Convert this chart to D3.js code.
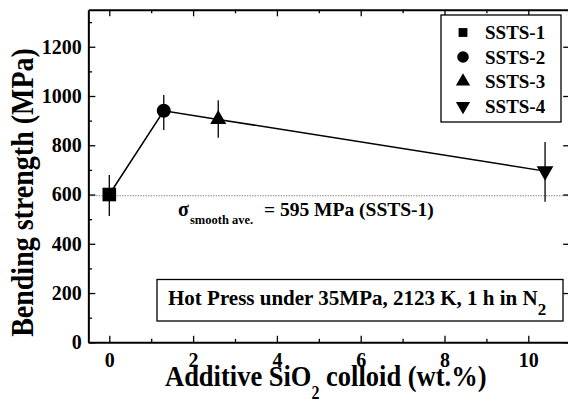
<!DOCTYPE html>
<html>
<head>
<meta charset="utf-8">
<script src="https://cdn.jsdelivr.net/npm/d3@7"></script>
<style>
  html, body { margin: 0; padding: 0; background: #fff; }
  svg { display: block; }
</style>
</head>
<body>
<script>
// ---------------- data ----------------
const categories = ["SSTS-1", "SSTS-2", "SSTS-3", "SSTS-4"];
const siO2 = [0, 1.3, 2.6, 10.4];            // wt.%
const strength = [600, 940, 905, 695];       // MPa
const errLow = [513, 862, 830, 571];
const errHigh = [679, 1004, 983, 813];
const smoothAve = 595;
const xTicks = [0, 2, 4, 6, 8, 10];
const xMinorTicks = [1, 3, 5, 7, 9, 11];
const yTicks = [0, 200, 400, 600, 800, 1000, 1200];
const yMinorTicks = [100, 300, 500, 700, 900, 1100, 1300];

// ---------------- layout ----------------
const W = 568, H = 404;
const FONT = "'Liberation Serif', monospace";
const svg = d3.select("body").append("svg").attr("width", W).attr("height", H);

const x = d3.scaleLinear().domain([-0.5, 11]).range([88.35, 570.2]);
const y = d3.scaleLinear().domain([0, 1350]).range([342.3, 9.8]);

const symbolTypes = [d3.symbolSquare, d3.symbolCircle, d3.symbolTriangle, d3.symbolTriangle];
const symbolSizes = [185, 154, 112, 120];
const legendSizes = [78, 105, 88, 88];
const symbolRot = [0, 0, 0, 180];

function txt(sel, size) {
  return sel.attr("font-family", FONT).attr("font-weight", "bold").attr("font-size", size).attr("fill", "#000");
}

// dotted reference line
svg.append("line")
  .attr("x1", x(-0.5)).attr("x2", x(11))
  .attr("y1", y(smoothAve)).attr("y2", y(smoothAve))
  .attr("stroke", "#777").attr("stroke-width", 1.2)
  .attr("stroke-dasharray", "1.3,1.3");

// axes
function styleAxis(g) {
  g.attr("font-family", FONT).attr("font-size", 20);
  g.selectAll(".domain").attr("stroke", "#000").attr("stroke-width", 2);
  g.selectAll(".tick line").attr("stroke", "#000").attr("stroke-width", 1.3);
  txt(g.selectAll(".tick text"), 20);
}

const gx = svg.append("g").attr("transform", `translate(0,${y(0)})`)
  .call(d3.axisBottom(x).tickValues(xTicks).tickSizeInner(-6.5).tickSizeOuter(0).tickPadding(10.5).tickFormat(d3.format("d")));
styleAxis(gx);
const gxm = svg.append("g").attr("transform", `translate(0,${y(0)})`)
  .call(d3.axisBottom(x).tickValues(xMinorTicks).tickSizeInner(-3.5).tickSizeOuter(0).tickFormat(""));
styleAxis(gxm);
gxm.select(".domain").remove();

const gxt = svg.append("g").attr("transform", `translate(0,${y(1350)})`)
  .call(d3.axisTop(x).tickValues(xTicks).tickSizeInner(-6.5).tickSizeOuter(0).tickFormat(""));
styleAxis(gxt);
const gxtm = svg.append("g").attr("transform", `translate(0,${y(1350)})`)
  .call(d3.axisTop(x).tickValues(xMinorTicks).tickSizeInner(-3.5).tickSizeOuter(0).tickFormat(""));
styleAxis(gxtm);
gxtm.select(".domain").remove();

const gy = svg.append("g").attr("transform", `translate(${x(-0.5)},0)`)
  .call(d3.axisLeft(y).tickValues(yTicks).tickSizeInner(-7).tickSizeOuter(0).tickPadding(6.5).tickFormat(d3.format("d")));
styleAxis(gy);
const gym = svg.append("g").attr("transform", `translate(${x(-0.5)},0)`)
  .call(d3.axisLeft(y).tickValues(yMinorTicks).tickSizeInner(-3.7).tickSizeOuter(0).tickFormat(""));
styleAxis(gym);
gym.select(".domain").remove();

const gyr = svg.append("g").attr("transform", `translate(${x(11)},0)`)
  .call(d3.axisRight(y).tickValues(yTicks).tickSizeInner(-7).tickSizeOuter(0).tickFormat(""));
styleAxis(gyr);

// connecting line
const pts = siO2.map((v, i) => [v, strength[i]]);
svg.append("path")
  .attr("d", d3.line().x(d => x(d[0])).y(d => y(d[1]))(pts))
  .attr("fill", "none").attr("stroke", "#000").attr("stroke-width", 1.5);

// error bars
svg.append("g").selectAll("line").data(siO2).join("line")
  .attr("x1", d => x(d)).attr("x2", d => x(d))
  .attr("y1", (d, i) => y(errLow[i])).attr("y2", (d, i) => y(errHigh[i]))
  .attr("stroke", "#000").attr("stroke-width", 1.3);

// markers
svg.append("g").selectAll("path").data(siO2).join("path")
  .attr("d", (d, i) => d3.symbol().type(symbolTypes[i]).size(symbolSizes[i])())
  .attr("transform", (d, i) => `translate(${x(d)},${y(strength[i])}) rotate(${symbolRot[i]})`)
  .attr("fill", "#000");

// legend
const lg = svg.append("g");
lg.append("rect").attr("x", 441).attr("y", 15).attr("width", 120).attr("height", 107)
  .attr("fill", "#fff").attr("stroke", "#000").attr("stroke-width", 1.3);
const rows = lg.selectAll("g.row").data(categories).join("g")
  .attr("class", "row")
  .attr("transform", (d, i) => `translate(0,${39 + i * 24.5})`);
rows.append("path")
  .attr("d", (d, i) => d3.symbol().type(symbolTypes[i]).size(legendSizes[i])())
  .attr("transform", (d, i) => `translate(463,-6.5) rotate(${symbolRot[i]})`)
  .attr("fill", "#000");
txt(rows.append("text"), 19).attr("x", 485).attr("y", 0).text(d => d);

// sigma annotation
txt(svg.append("text"), 20).attr("x", 178).attr("y", 216).text("σ");
txt(svg.append("text"), 12.5).attr("x", 190).attr("y", 224).text("smooth ave.");
txt(svg.append("text"), 19.5).attr("x", 264).attr("y", 216).text(`= ${smoothAve} MPa (SSTS-1)`);

// condition box
svg.append("rect").attr("x", 157).attr("y", 279.5).attr("width", 406).attr("height", 41.5)
  .attr("fill", "#fff").attr("stroke", "#000").attr("stroke-width", 1.3);
const note = txt(svg.append("text"), 21).attr("x", 168).attr("y", 305);
note.append("tspan").text("Hot Press under 35MPa, 2123 K, 1 h in N");
note.append("tspan").attr("dy", 10).attr("font-size", 17).text("2");

// axis titles (slightly taller glyphs, as in the reference)
const xt = txt(svg.append("text"), 26.5).attr("transform", "translate(165,385.5) scale(1,1.12)");
xt.append("tspan").text("Additive SiO");
xt.append("tspan").attr("dy", 12).attr("font-size", 16).text("2");
xt.append("tspan").attr("dy", -12).text(" colloid (wt.%)");

txt(svg.append("text"), 28)
  .attr("transform", "translate(33,192.5) scale(1.12,1) rotate(-90)")
  .attr("text-anchor", "middle")
  .text("Bending strength (MPa)");
</script>
</body>
</html>
